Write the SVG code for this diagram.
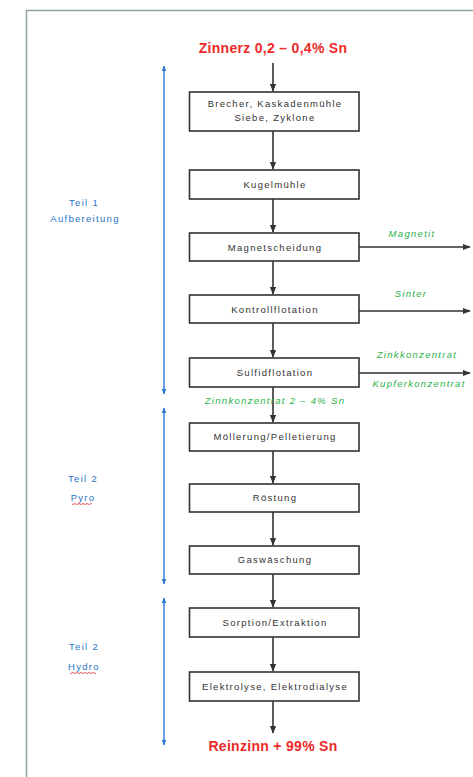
<svg xmlns="http://www.w3.org/2000/svg" width="473" height="777" viewBox="0 0 473 777">
<style>
.box{fill:#fff;stroke:#333;stroke-width:1.6}
.bt{font-family:"Liberation Sans",Arial,sans-serif;font-size:9.5px;letter-spacing:1.3px;fill:#333;text-anchor:middle}
.red{font-family:"Liberation Sans",Arial,sans-serif;font-size:14px;font-weight:bold;letter-spacing:0.3px;fill:#ee2a2a;text-anchor:middle}
.grn{font-family:"Liberation Sans",Arial,sans-serif;font-size:9.5px;letter-spacing:1.3px;font-style:italic;fill:#2bb24a;text-anchor:middle}
.blu{font-family:"Liberation Sans",Arial,sans-serif;font-size:9.5px;letter-spacing:1.3px;fill:#1f73c8;text-anchor:middle}
.ar{stroke:#333;stroke-width:1.6;fill:none;marker-end:url(#ah)}
.bl{stroke:#2a78d0;stroke-width:1.4;fill:none;marker-start:url(#bh);marker-end:url(#bh)}
</style>
<defs>
<marker id="ah" viewBox="0 0 10 10" refX="9" refY="5" markerWidth="5" markerHeight="5" orient="auto"><path d="M0,1 L10,5 L0,9 Z" fill="#333"/></marker>
<marker id="bh" viewBox="0 0 10 10" refX="9" refY="5" markerWidth="4" markerHeight="4" orient="auto-start-reverse"><path d="M0,1 L10,5 L0,9 Z" fill="#2a78d0"/></marker>
</defs>
<rect width="473" height="777" fill="#fff"/>
<path d="M26.5,777 V10.5 H473" fill="none" stroke="#8aa597" stroke-width="1.5"/>

<g id="connectors">
<line class="ar" x1="273" y1="63" x2="273" y2="91"/>
<line class="ar" x1="273" y1="131" x2="273" y2="169"/>
<line class="ar" x1="273" y1="199" x2="273" y2="232"/>
<line class="ar" x1="273" y1="261" x2="273" y2="294"/>
<line class="ar" x1="273" y1="323" x2="273" y2="357"/>
<line class="ar" x1="273" y1="387" x2="273" y2="422"/>
<line class="ar" x1="273" y1="451" x2="273" y2="483"/>
<line class="ar" x1="273" y1="512" x2="273" y2="545"/>
<line class="ar" x1="273" y1="574" x2="273" y2="607"/>
<line class="ar" x1="273" y1="637" x2="273" y2="671"/>
<line class="ar" x1="273" y1="701" x2="273" y2="733"/>
<line class="ar" x1="359" y1="247" x2="470" y2="247"/>
<line class="ar" x1="359" y1="311" x2="470" y2="311"/>
<line class="ar" x1="359" y1="373" x2="470" y2="373"/>
<line class="bl" x1="164" y1="66" x2="164" y2="394"/>
<line class="bl" x1="164" y1="408" x2="164" y2="584"/>
<line class="bl" x1="164" y1="598" x2="164" y2="745"/>
</g>

<g id="start"><text class="red" x="273" y="53">Zinnerz 0,2 – 0,4% Sn</text></g>
<g id="n1"><rect class="box" x="189.5" y="92" width="169.5" height="39"/><text class="bt" x="275" y="107">Brecher, Kaskadenmühle</text><text class="bt" x="275" y="121">Siebe, Zyklone</text></g>
<g id="n2"><rect class="box" x="189.5" y="170" width="169.5" height="29"/><text class="bt" x="275" y="188">Kugelmühle</text></g>
<g id="n3"><rect class="box" x="189.5" y="233" width="169.5" height="28"/><text class="bt" x="275" y="251">Magnetscheidung</text></g>
<g id="n4"><rect class="box" x="189.5" y="295" width="169.5" height="28"/><text class="bt" x="275" y="313">Kontrollflotation</text></g>
<g id="n5"><rect class="box" x="189.5" y="358" width="169.5" height="29"/><text class="bt" x="275" y="376">Sulfidflotation</text></g>
<g id="n6"><rect class="box" x="189.5" y="423" width="169.5" height="28"/><text class="bt" x="275" y="440">Möllerung/Pelletierung</text></g>
<g id="n7"><rect class="box" x="189.5" y="484" width="169.5" height="28"/><text class="bt" x="275" y="501">Röstung</text></g>
<g id="n8"><rect class="box" x="189.5" y="546" width="169.5" height="28"/><text class="bt" x="275" y="563">Gaswäschung</text></g>
<g id="n9"><rect class="box" x="189.5" y="608" width="169.5" height="29"/><text class="bt" x="275" y="626">Sorption/Extraktion</text></g>
<g id="n10"><rect class="box" x="189.5" y="672" width="169.5" height="29"/><text class="bt" x="275" y="690">Elektrolyse, Elektrodialyse</text></g>
<g id="end"><text class="red" x="273" y="751">Reinzinn + 99% Sn</text></g>

<g id="side-labels">
<text class="grn" x="412" y="237">Magnetit</text>
<text class="grn" x="411" y="297">Sinter</text>
<text class="grn" x="417" y="358">Zinkkonzentrat</text>
<text class="grn" x="419" y="387">Kupferkonzentrat</text>
<text class="grn" x="275" y="404">Zinnkonzentrat 2 – 4% Sn</text>
</g>

<g id="phases">
<text class="blu" x="84" y="206">Teil 1</text>
<text class="blu" x="85" y="222">Aufbereitung</text>
<text class="blu" x="83" y="482">Teil 2</text>
<text class="blu" x="83" y="501">Pyro</text>
<path d="M72,504 q1,1 2,0 t2,0 t2,0 t2,0 t2,0 t2,0 t2,0 t2,0 t2,0 t2,0" fill="none" stroke="#e03030" stroke-width="0.8"/>
<text class="blu" x="84" y="650">Teil 2</text>
<text class="blu" x="84" y="670">Hydro</text>
<path d="M70,673 q1,1 2,0 t2,0 t2,0 t2,0 t2,0 t2,0 t2,0 t2,0 t2,0 t2,0 t2,0 t2,0 t2,0" fill="none" stroke="#e03030" stroke-width="0.8"/>
</g>
</svg>
